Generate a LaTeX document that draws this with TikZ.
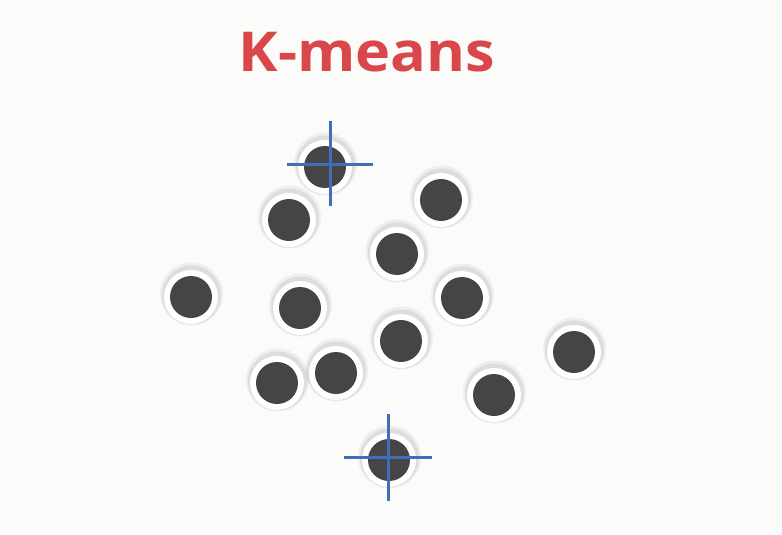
\documentclass[tikz,border=0pt]{standalone}
\usepackage{fontspec}
\setmainfont{Open Sans}
\definecolor{bgc}{HTML}{FBFBFA}
\definecolor{dotc}{HTML}{454545}
\definecolor{titlec}{HTML}{D9474B}
\definecolor{crossc}{HTML}{3F6FB8}
\tikzset{
  dotshape/.pic={
    \fill[black,opacity=0.05] (0.5,-3) circle (31.5);
    \fill[black,opacity=0.07] (0.5,-2) circle (29.5);
    \fill[white] (0,0) circle (27);
    \fill[dotc] (0,0) circle (21);
  },
  crossline/.style={draw=crossc,line width=3pt}
}
\begin{document}
\begin{tikzpicture}[x=1pt,y=-1pt]
\fill[bgc] (0,0) rectangle (782,535);
\useasboundingbox (0,0) rectangle (782,535);
\node[text=titlec,font=\bfseries\fontsize{55}{55}\selectfont,inner sep=0,xscale=1.08] (title) at (367,52) {K-means};
\foreach \x/\y [count=\i] in {325/167, 289/220, 441/200, 397/254, 191/297, 300/308, 462/298, 401/341, 277/383, 336/373, 574/352, 494/395, 389/460}
  \pic (d\i) at (\x,\y) {dotshape};
\coordinate (c1) at (330,164);
\coordinate (c2) at (388,457);
\draw[crossline] ([yshift=-42]c1) -- ([yshift=43]c1);
\draw[crossline] ([xshift=-43]c1) -- ([xshift=43]c1);
\draw[crossline] ([yshift=-44]c2) -- ([yshift=43]c2);
\draw[crossline] ([xshift=-44]c2) -- ([xshift=44]c2);
\end{tikzpicture}
\end{document}
